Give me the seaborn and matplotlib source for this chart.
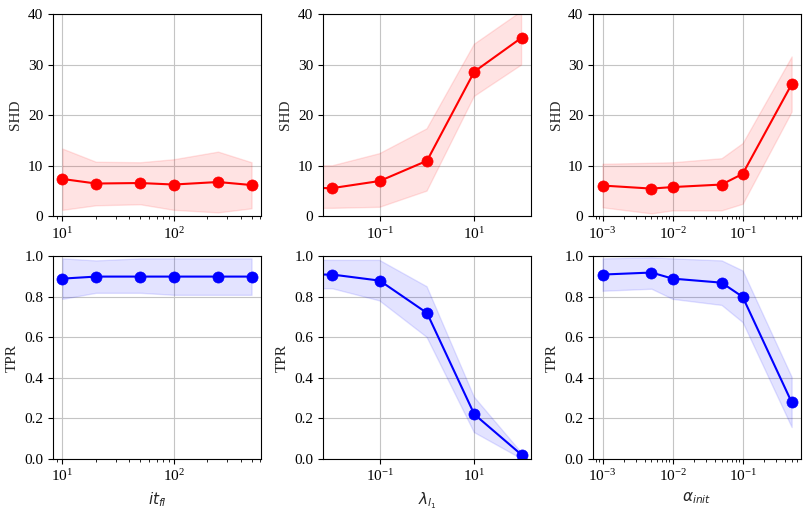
import matplotlib
matplotlib.use('Agg')
import matplotlib.pyplot as plt
import seaborn as sns

# x values of the three sweeps (lambda includes 0, clipped by the log axis)
it_fl = [10, 20, 50, 100, 250, 500]
lam_l1 = [0, 0.01, 0.1, 1, 10, 100]
alpha_init = [0.001, 0.005, 0.01, 0.05, 0.1, 0.5]

# SHD mean / lower / upper
shd_it = [7.4, 6.5, 6.6, 6.3, 6.8, 6.2]
shd_it_lo = [1.3, 2.2, 2.4, 1.3, 0.8, 1.6]
shd_it_hi = [13.4, 10.8, 10.7, 11.3, 12.8, 10.7]

shd_lam = [5.7, 5.6, 7.0, 11.0, 28.6, 35.3]
shd_lam_lo = [1.6, 1.6, 1.8, 5.0, 23.7, 29.9]
shd_lam_hi = [9.9, 10.0, 12.4, 17.3, 34.0, 40.5]

shd_alpha = [6.1, 5.5, 5.8, 6.3, 8.4, 26.1]
shd_alpha_lo = [1.8, 0.6, 1.2, 1.2, 2.5, 20.7]
shd_alpha_hi = [10.4, 10.6, 10.7, 11.5, 14.5, 31.6]

# TPR mean / lower / upper
tpr_it = [0.89, 0.90, 0.90, 0.90, 0.90, 0.90]
tpr_it_lo = [0.79, 0.82, 0.82, 0.81, 0.81, 0.81]
tpr_it_hi = [0.99, 0.98, 0.99, 0.99, 0.99, 0.99]

tpr_lam = [0.91, 0.91, 0.88, 0.72, 0.22, 0.02]
tpr_lam_lo = [0.84, 0.84, 0.78, 0.60, 0.13, 0.0]
tpr_lam_hi = [0.98, 0.98, 0.98, 0.85, 0.305, 0.03]

tpr_alpha = [0.91, 0.92, 0.89, 0.87, 0.80, 0.28]
tpr_alpha_lo = [0.83, 0.84, 0.79, 0.76, 0.675, 0.157]
tpr_alpha_hi = [0.99, 0.995, 0.99, 0.98, 0.93, 0.405]

sns.set_theme(style='ticks', rc={
    'axes.grid': True,
    'grid.color': '#c4c4c4',
    'grid.linewidth': 0.8,
    'axes.edgecolor': 'black',
    'axes.linewidth': 0.8,
    'xtick.direction': 'out',
    'ytick.direction': 'out',
    'xtick.color': 'black',
    'ytick.color': 'black',
    'xtick.major.size': 3.5,
    'ytick.major.size': 3.5,
    'xtick.minor.size': 2,
    'ytick.minor.size': 2,
    'xtick.major.width': 0.8,
    'ytick.major.width': 0.8,
    'xtick.minor.width': 0.6,
    'ytick.minor.width': 0.6,
    'xtick.major.pad': 3.5,
    'ytick.major.pad': 3.5,
    'xtick.minor.pad': 3.4,
    'axes.labelpad': 4.0,
})
plt.rcParams['font.family'] = ['Liberation Serif', 'DejaVu Serif']
plt.rcParams['mathtext.fontset'] = 'dejavusans'


def draw(ax, x, mean, lo, hi, color):
    ax.set_xscale('log')
    ax.fill_between(x, lo, hi, color=color, alpha=0.11, linewidth=1)
    sns.lineplot(x=x, y=mean, ax=ax, color=color, marker='o', markersize=8,
                 linewidth=1.5, markeredgecolor=color, markeredgewidth=0.5)
    ax.grid(True, which='major')
    ax.tick_params(labelsize=11)


fig, axes = plt.subplots(2, 3, figsize=(8.1, 5.15), dpi=100)
fig.subplots_adjust(left=0.0654, right=0.989, top=0.973, bottom=0.109,
                    wspace=0.298, hspace=0.197)

draw(axes[0, 0], it_fl, shd_it, shd_it_lo, shd_it_hi, 'red')
draw(axes[0, 1], lam_l1, shd_lam, shd_lam_lo, shd_lam_hi, 'red')
draw(axes[0, 2], alpha_init, shd_alpha, shd_alpha_lo, shd_alpha_hi, 'red')
draw(axes[1, 0], it_fl, tpr_it, tpr_it_lo, tpr_it_hi, 'blue')
draw(axes[1, 1], lam_l1, tpr_lam, tpr_lam_lo, tpr_lam_hi, 'blue')
draw(axes[1, 2], alpha_init, tpr_alpha, tpr_alpha_lo, tpr_alpha_hi, 'blue')

for ax in axes[0]:
    ax.set_ylim(0, 40)
    ax.set_yticks([0, 10, 20, 30, 40])
    ax.set_ylabel('SHD', fontsize=11)
for ax in axes[1]:
    ax.set_ylim(0, 1.0)
    ax.set_yticks([0.0, 0.2, 0.4, 0.6, 0.8, 1.0])
    ax.set_ylabel('TPR', fontsize=11)

for ax in axes[:, 1]:
    ax.set_xlim(10 ** -2.2, 10 ** 2.2)
    ax.set_xticks([0.1, 10])
    ax.minorticks_off()

axes[1, 0].set_xlabel(r'$it_{fl}$', fontsize=11)
axes[1, 1].set_xlabel(r'$\lambda_{l_1}$', fontsize=11)
axes[1, 2].set_xlabel(r'$\alpha_{init}$', fontsize=11)
for ax in axes[0]:
    ax.set_xlabel('')

fig.savefig('out.png', dpi=100)
